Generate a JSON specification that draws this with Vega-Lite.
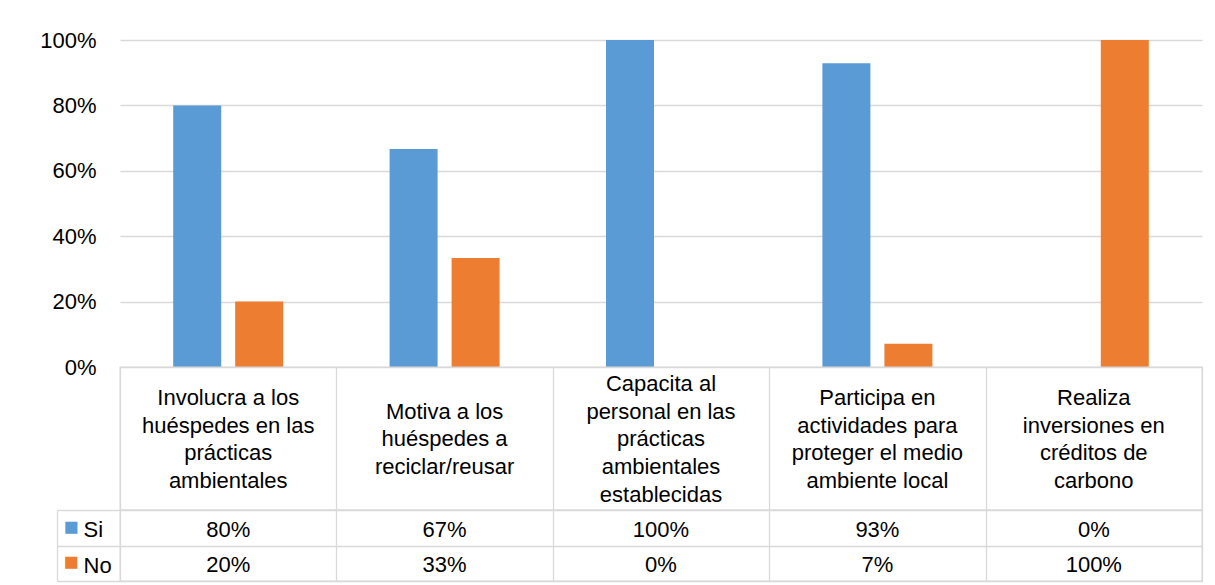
{
  "$schema": "https://vega.github.io/schema/vega-lite/v6.json",
  "autosize": {"type": "pad"},
  "padding": {"left": 39, "top": 29, "right": 5, "bottom": 4},
  "background": "white",
  "config": {"font": "Liberation Sans", "concat": {"spacing": 0}},
  "datasets": {
    "d": [
      {"cat": "Involucra a los\nhuéspedes en las\nprácticas\nambientales", "series": "Si", "value": 0.80},
      {"cat": "Involucra a los\nhuéspedes en las\nprácticas\nambientales", "series": "No", "value": 0.20},
      {"cat": "Motiva a los\nhuéspedes a\nreciclar/reusar", "series": "Si", "value": 0.667},
      {"cat": "Motiva a los\nhuéspedes a\nreciclar/reusar", "series": "No", "value": 0.333},
      {"cat": "Capacita al\npersonal en las\nprácticas\nambientales\nestablecidas", "series": "Si", "value": 1.0},
      {"cat": "Capacita al\npersonal en las\nprácticas\nambientales\nestablecidas", "series": "No", "value": 0.0},
      {"cat": "Participa en\nactividades para\nproteger el medio\nambiente local", "series": "Si", "value": 0.929},
      {"cat": "Participa en\nactividades para\nproteger el medio\nambiente local", "series": "No", "value": 0.071},
      {"cat": "Realiza\ninversiones en\ncréditos de\ncarbono", "series": "Si", "value": 0.0},
      {"cat": "Realiza\ninversiones en\ncréditos de\ncarbono", "series": "No", "value": 1.0}
    ]
  },
  "bounds": "flush",
  "spacing": 0,
  "vconcat": [
    {
      "width": 1082,
      "height": 327,
      "view": {"stroke": null},
      "data": {"name": "d"},
      "mark": {"type": "bar"},
      "encoding": {
        "x": {"field": "cat", "type": "nominal", "sort": null,
              "scale": {"paddingInner": 0, "paddingOuter": 0}, "axis": null},
        "xOffset": {"field": "series", "type": "nominal", "sort": ["Si", "No"],
                    "scale": {"domain": ["Si", "No"], "paddingInner": 0.2258, "paddingOuter": 0.858}},
        "y": {"field": "value", "type": "quantitative",
              "scale": {"domain": [0, 1], "nice": false},
              "axis": {"title": null, "format": "0%", "values": [0, 0.2, 0.4, 0.6, 0.8, 1.0],
                       "domain": false, "ticks": false, "labelPadding": 24,
                       "labelFontSize": 22, "labelColor": "#000000",
                       "grid": true, "gridColor": "#D9D9D9", "gridWidth": 1.3}},
        "color": {"field": "series", "type": "nominal",
                  "scale": {"domain": ["Si", "No"], "range": ["#5B9BD5", "#ED7D31"]},
                  "legend": null}
      }
    },
    {
      "width": 1082,
      "height": 143,
      "view": {"stroke": "#D9D9D9", "strokeWidth": 1.3},
      "data": {"name": "d"},
      "transform": [{"filter": "datum.series === 'Si'"}],
      "mark": {"type": "text", "lineBreak": "\n", "fontSize": 22, "lineHeight": 27.8,
               "baseline": "middle", "align": "center", "color": "#000000",
               "dy": {"expr": "-(length(split(datum.cat, '\\n')) - 1) * 27.8 / 2 + 1"}},
      "encoding": {
        "x": {"field": "cat", "type": "nominal", "sort": null,
              "scale": {"paddingInner": 0, "paddingOuter": 0},
              "axis": {"title": null, "labels": false, "ticks": false, "domain": false,
                       "grid": true, "tickBand": "extent", "gridColor": "#D9D9D9", "gridWidth": 1.3}},
        "text": {"field": "cat"}
      }
    },
    {
      "width": 1082,
      "height": 71,
      "view": {"stroke": "#D9D9D9", "strokeWidth": 1.3},
      "data": {"name": "d"},
      "resolve": {"axis": {"y": "independent"}},
      "layer": [
        {
          "mark": {"type": "text", "fontSize": 22, "baseline": "middle", "align": "center", "color": "#000000", "dy": 2},
          "encoding": {
            "x": {"field": "cat", "type": "nominal", "sort": null,
                  "scale": {"paddingInner": 0, "paddingOuter": 0},
                  "axis": {"title": null, "labels": false, "ticks": false, "domain": false,
                           "grid": true, "tickBand": "extent", "gridColor": "#D9D9D9", "gridWidth": 1.3}},
            "y": {"field": "series", "type": "nominal",
                  "scale": {"domain": ["Si", "No"], "paddingInner": 0, "paddingOuter": 0},
                  "axis": {"title": null, "orient": "left", "domain": false,
                           "grid": true, "gridColor": "#D9D9D9", "gridWidth": 1.3,
                           "tickBand": "extent", "ticks": true, "tickSize": 63,
                           "tickColor": "#D9D9D9", "tickWidth": 1.3,
                           "labelAlign": "left", "labelPadding": -26, "labelOffset": 2,
                           "labelFontSize": 22, "labelColor": "#000000"}},
            "text": {"field": "value", "type": "quantitative", "format": ".0%"}
          }
        },
        {
          "mark": {"type": "text", "text": "", "opacity": 0},
          "encoding": {
            "x": {"field": "cat", "type": "nominal", "sort": null},
            "y": {"field": "series", "type": "nominal",
                  "scale": {"domain": ["Si", "No"], "paddingInner": 0, "paddingOuter": 0},
                  "axis": {"title": null, "orient": "left", "offset": 63,
                           "domain": true, "domainColor": "#D9D9D9", "domainWidth": 1.3,
                           "grid": false, "ticks": false,
                           "labelExpr": "'■'", "labelAlign": "left", "labelPadding": -6,
                           "labelFontSize": 25, "labelBaseline": "middle", "labelOffset": -1,
                           "labelColor": {"condition": {"test": "datum.value === 'Si'", "value": "#5B9BD5"}, "value": "#ED7D31"}}}
          }
        }
      ]
    }
  ]
}
